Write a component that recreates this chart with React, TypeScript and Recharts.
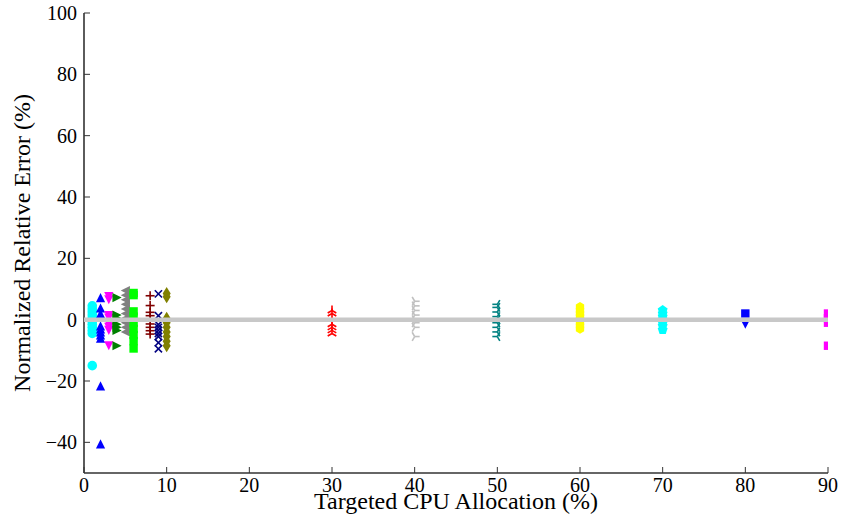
import React from 'react';
import { ScatterChart, Scatter, XAxis, YAxis } from 'recharts';

const FONT = '"Liberation Serif", "DejaVu Serif", "Times New Roman", serif';

const xTicks = [0, 10, 20, 30, 40, 50, 60, 70, 80, 90];
const yTicks = [-40, -20, 0, 20, 40, 60, 80, 100];

// Normalized relative error (%) observed at each targeted CPU allocation (%)
const err1 = [4.5, 3.5, 2.5, 1.5, 0.5, -0.5, -1.5, -2.5, -3.5, -4.5, -15];
const err2 = [7.2, 3.8, 2, -2, -3, -4, -5, -6, -21.6, -40.5];
const err3 = [7.5, 6.5, 1.3, 0.5, -1.5, -2.5, -3.5, -8.5];
const err4 = [7.2, 1.5, 0.5, -1.5, -2.5, -3.5, -8.5];
const err5 = [9.5, 8, 6.5, 5, 3.5, 2, 0.5, -1, -2.5, -4];
const err6 = [8.7, 8, 2.7, 1, -1, -3, -5, -7, -9.4];
const err8 = [7.8, 4.6, 2.4, 1.3, -1.4, -2.5, -3.6, -4.7];
const err9 = [8.4, 1.3, -1.6, -2.5, -3.5, -4.5, -5.5, -7.5, -9.5];
const err10 = [8.5, 7.5, 0.5, -1, -2.5, -4, -5.5, -7, -8.5];
const err30 = [3, 2, 0.5, -1.5, -2.5, -3.5, -4.5];
const err40 = [6, 4.5, 3, 1.5, 0, -1, -2.5, -5.5];
const err50 = [5, 4, 2.5, 1, 0, -1, -2.5, -4, -5.5];
const err60 = [4.2, 3, 2, 1, 0, -1, -2, -3];
const err70 = [3.1, 2, 1, 0, -1, -2, -3.3];
const err80a = [2];
const err80b = [-1.5];
const err90 = [2, 0.5, -1, -8.5];

const zeroLine = [
  { x: 0, y: 0 },
  { x: 90, y: 0 },
];

type Series = { x: number; ys: number[]; color: string; kind: string };

const series: Series[] = [
  { x: 1, ys: err1, color: '#00ffff', kind: 'circle' },
  { x: 2, ys: err2, color: '#0000ff', kind: 'triUp' },
  { x: 3, ys: err3, color: '#ff00ff', kind: 'triDown' },
  { x: 4, ys: err4, color: '#008000', kind: 'triRight' },
  { x: 5, ys: err5, color: '#808080', kind: 'triLeft' },
  { x: 6, ys: err6, color: '#00ff00', kind: 'square' },
  { x: 8, ys: err8, color: '#800000', kind: 'plus' },
  { x: 9, ys: err9, color: '#000080', kind: 'x' },
  { x: 10, ys: err10, color: '#808000', kind: 'thinDiamond' },
  { x: 30, ys: err30, color: '#ff0000', kind: 'tri1' },
  { x: 40, ys: err40, color: '#c0c0c0', kind: 'tri4' },
  { x: 50, ys: err50, color: '#008080', kind: 'tri3' },
  { x: 60, ys: err60, color: '#ffff00', kind: 'hexagon' },
  { x: 70, ys: err70, color: '#00ffff', kind: 'pentagon' },
  { x: 80, ys: err80a, color: '#0000ff', kind: 'square' },
  { x: 80, ys: err80b, color: '#0000ff', kind: 'triDown' },
  { x: 90, ys: err90, color: '#ff00ff', kind: 'square' },
];

function poly(cx: number, cy: number, pts: number[][]) {
  return pts.map(([dx, dy]) => `${cx + dx},${cy + dy}`).join(' ');
}

function regular(cx: number, cy: number, n: number, r: number) {
  const pts: number[][] = [];
  for (let i = 0; i < n; i++) {
    const a = -Math.PI / 2 + (i * 2 * Math.PI) / n;
    pts.push([r * Math.cos(a), r * Math.sin(a)]);
  }
  return poly(cx, cy, pts);
}

function Marker(props: any) {
  const { cx, cy, kind, color } = props;
  if (cx == null || cy == null || isNaN(cx) || isNaN(cy)) return <g />;
  const s = 4.6;
  const sw = 1.6;
  switch (kind) {
    case 'circle':
      return <circle cx={cx} cy={cy} r={4.8} fill={color} />;
    case 'triUp':
      return <polygon points={poly(cx, cy, [[0, -s], [-s, s], [s, s]])} fill={color} />;
    case 'triDown':
      return <polygon points={poly(cx, cy, [[0, s], [-s, -s], [s, -s]])} fill={color} />;
    case 'triRight':
      return <polygon points={poly(cx, cy, [[s, 0], [-s, -s], [-s, s]])} fill={color} />;
    case 'triLeft':
      return <polygon points={poly(cx, cy, [[-s, 0], [s, -s], [s, s]])} fill={color} />;
    case 'square':
      return <rect x={cx - 4.2} y={cy - 4.2} width={8.4} height={8.4} fill={color} />;
    case 'plus':
      return (
        <g stroke={color} strokeWidth={sw}>
          <line x1={cx - 4.5} y1={cy} x2={cx + 4.5} y2={cy} />
          <line x1={cx} y1={cy - 4.5} x2={cx} y2={cy + 4.5} />
        </g>
      );
    case 'x':
      return (
        <g stroke={color} strokeWidth={sw}>
          <line x1={cx - 3.6} y1={cy - 3.6} x2={cx + 3.6} y2={cy + 3.6} />
          <line x1={cx - 3.6} y1={cy + 3.6} x2={cx + 3.6} y2={cy - 3.6} />
        </g>
      );
    case 'thinDiamond':
      return <polygon points={poly(cx, cy, [[0, -6.5], [4, 0], [0, 6.5], [-4, 0]])} fill={color} />;
    case 'tri1': {
      // tri_up style
      return (
        <g stroke={color} strokeWidth={sw}>
          <line x1={cx} y1={cy} x2={cx} y2={cy - 5} />
          <line x1={cx} y1={cy} x2={cx - 4.3} y2={cy + 2.5} />
          <line x1={cx} y1={cy} x2={cx + 4.3} y2={cy + 2.5} />
        </g>
      );
    }
    case 'tri4': {
      // tri_right style
      return (
        <g stroke={color} strokeWidth={sw}>
          <line x1={cx} y1={cy} x2={cx + 5} y2={cy} />
          <line x1={cx} y1={cy} x2={cx - 2.5} y2={cy - 4.3} />
          <line x1={cx} y1={cy} x2={cx - 2.5} y2={cy + 4.3} />
        </g>
      );
    }
    case 'tri3': {
      // tri_left style
      return (
        <g stroke={color} strokeWidth={sw}>
          <line x1={cx} y1={cy} x2={cx - 5} y2={cy} />
          <line x1={cx} y1={cy} x2={cx + 2.5} y2={cy - 4.3} />
          <line x1={cx} y1={cy} x2={cx + 2.5} y2={cy + 4.3} />
        </g>
      );
    }
    case 'hexagon':
      return <polygon points={regular(cx, cy, 6, 4.8)} fill={color} />;
    case 'pentagon':
      return <polygon points={regular(cx, cy, 5, 5.2)} fill={color} />;
    default:
      return <circle cx={cx} cy={cy} r={4} fill={color} />;
  }
}

const minus = (v: number) => String(v).replace('-', '\u2212');
const axisStroke = '#333333';
const tickStyle = { fontSize: 20, fill: '#000000', fontFamily: FONT };

export default function App() {
  return (
    <div style={{ position: 'absolute', left: 0, top: 0, background: '#ffffff' }}>
      <ScatterChart
        width={842}
        height={518}
        margin={{ top: 13, right: 14, bottom: 0, left: 0 }}
        style={{ fontFamily: FONT }}
      >
        <XAxis
          xAxisId="b"
          type="number"
          dataKey="x"
          domain={[0, 90]}
          ticks={xTicks}
          interval={0}
          allowDataOverflow
          height={45}
          tickSize={-6}
          tickMargin={11}
          tick={tickStyle}
          axisLine={{ stroke: axisStroke, strokeWidth: 1.6 }}
          tickLine={{ stroke: axisStroke, strokeWidth: 1 }}
          label={{
            value: 'Targeted CPU Allocation (%)',
            position: 'insideBottom',
            offset: 9,
            fontSize: 24,
            fill: '#000000',
            fontFamily: FONT,
          }}
        />
        <XAxis
          xAxisId="t"
          orientation="top"
          type="number"
          dataKey="x"
          domain={[0, 90]}
          ticks={xTicks}
          interval={0}
          allowDataOverflow
          height={0}
          tickSize={-6}
          tick={false}
          axisLine={{ stroke: axisStroke, strokeWidth: 1.6 }}
          tickLine={{ stroke: axisStroke, strokeWidth: 1 }}
        />
        <YAxis
          yAxisId="l"
          type="number"
          dataKey="y"
          domain={[-50, 100]}
          ticks={yTicks}
          interval={0}
          allowDataOverflow
          width={84}
          tickSize={-6}
          tickMargin={13}
          tick={tickStyle}
          tickFormatter={minus}
          axisLine={{ stroke: axisStroke, strokeWidth: 1.6 }}
          tickLine={{ stroke: axisStroke, strokeWidth: 1 }}
          label={{
            value: 'Normalized Relative Error (%)',
            angle: -90,
            position: 'insideLeft',
            offset: 21,
            fontSize: 24,
            fill: '#000000',
            fontFamily: FONT,
            style: { textAnchor: 'middle' },
          }}
        />
        <YAxis
          yAxisId="r"
          orientation="right"
          type="number"
          dataKey="y"
          domain={[-50, 100]}
          ticks={yTicks}
          interval={0}
          allowDataOverflow
          width={0}
          tickSize={-6}
          tick={false}
          axisLine={{ stroke: axisStroke, strokeWidth: 1.6 }}
          tickLine={{ stroke: axisStroke, strokeWidth: 1 }}
        />
        {series.map((s, i) => (
          <Scatter
            key={i}
            xAxisId="b"
            yAxisId="l"
            data={s.ys.map((y) => ({ x: s.x, y }))}
            fill={s.color}
            isAnimationActive={false}
            shape={(p: any) => <Marker {...p} kind={s.kind} color={s.color} />}
          />
        ))}
        <Scatter
          xAxisId="b"
          yAxisId="l"
          data={zeroLine}
          line={{ stroke: '#c8c8c8', strokeWidth: 4.5 }}
          shape={() => <g />}
          isAnimationActive={false}
        />
        <Scatter
          xAxisId="t"
          yAxisId="r"
          data={zeroLine}
          shape={() => <g />}
          isAnimationActive={false}
        />
      </ScatterChart>
    </div>
  );
}
